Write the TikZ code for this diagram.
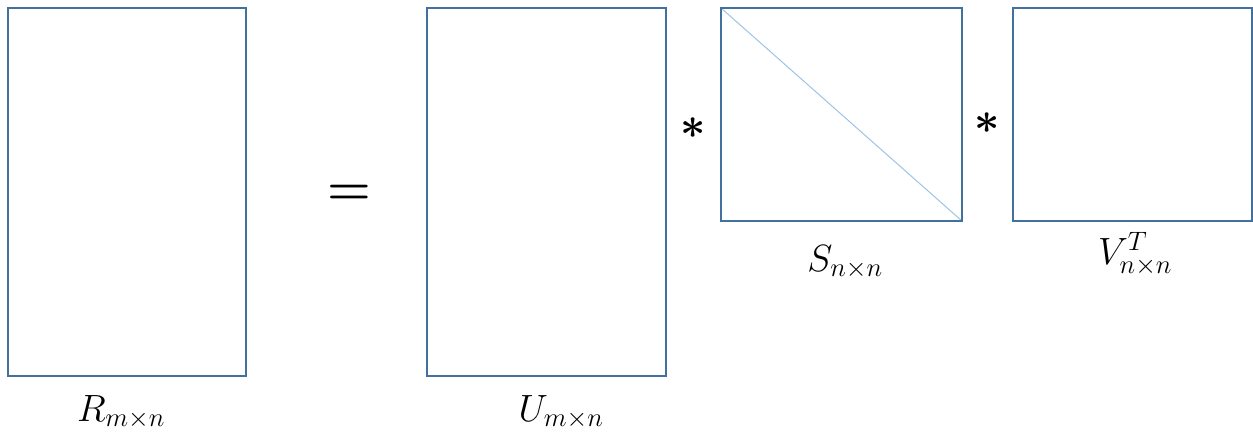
\RequirePackage{fix-cm}
\documentclass[tikz,border=0pt]{standalone}
\usepackage{amsmath,amssymb}
\definecolor{boxblue}{HTML}{41719C}
\definecolor{diagblue}{HTML}{9DC3E6}
\begin{document}
\begin{tikzpicture}[x=1pt,y=-1pt,
  mat/.style={draw=boxblue,line width=2pt,inner sep=0pt,minimum width=0pt},
  lbl/.style={font=\fontsize{38}{46}\selectfont,inner sep=0pt},
  op/.style={font=\fontsize{44}{52}\selectfont,inner sep=0pt}]
\useasboundingbox (0,0) rectangle (1253,438);
\draw[mat] (8,8) rectangle (246,376) coordinate (Rbr);
\coordinate (Rtl) at (8,8);
\draw[mat] (427,8) rectangle (666,376);
\coordinate (Stl) at (721,8);
\coordinate (Sbr) at (962,221);
\draw[diagblue,line width=1pt] (Stl) -- (Sbr);
\draw[mat] (Stl) rectangle (Sbr);
\draw[mat] (1013,8) rectangle (1252,221);
\node[lbl] (lR) at (121,412) {$R_{m\times n}$};
\node[lbl] (lU) at (561,412) {$U_{m\times n}$};
\node[lbl] (lS) at (845,262) {$S_{n\times n}$};
\node[lbl] (lV) at (1135,254) {$V_{n\times n}^{T}$};
\node[op,font=\fontsize{50}{60}\selectfont] (eq) at (349,195) {$\boldsymbol{=}$};
\node[op] (a1) at (693,128) {$\boldsymbol{\ast}$};
\node[op] (a2) at (987,123) {$\boldsymbol{\ast}$};
\end{tikzpicture}
\end{document}
